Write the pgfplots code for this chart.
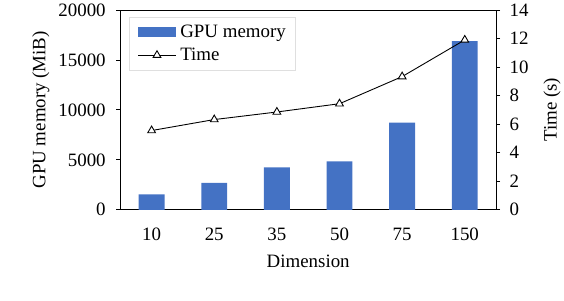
\documentclass[border=0pt]{standalone}
\usepackage{pgfplots}
\pgfplotsset{compat=1.18}
\usepackage{fontspec}
\setmainfont{Liberation Serif}
\definecolor{barblue}{HTML}{4472C4}
\begin{document}
\begin{tikzpicture}[font=\fontsize{19bp}{22bp}\selectfont]
\pgfplotsset{
  every axis/.append style={
    scale only axis, width=378bp, height=201bp,
    xmin=-0.5, xmax=5.5,
    /pgf/number format/assume math mode=true,
    /pgf/number format/set thousands separator={},
    scaled ticks=false,
    tick align=outside,
    major tick length=4bp,
    line width=0.8bp,
    tick style={line width=0.8bp, black},
    at={(0,0)}, anchor=south west,
  }
}
\begin{axis}[
  ymin=0, ymax=20000,
  ytick={0,5000,10000,15000,20000},
  ytick pos=left,
  xtick=data,
  xticklabels={10,25,35,50,75,150},
  xtick style={draw=none},
  xticklabel style={yshift=-11bp},
  yticklabel style={xshift=-7bp},
  xlabel={Dimension},
  xlabel style={yshift=-7bp},
  ylabel={GPU memory (MiB)},
  ylabel style={yshift=2bp},
]
\addplot[ybar, bar width=26bp, fill=barblue, draw=none] coordinates {
(0,1530) (1,2700) (2,4250) (3,4850) (4,8720) (5,16880)
};
\end{axis}
\begin{axis}[
  ymin=0, ymax=14,
  ytick={0,2,4,6,8,10,12,14},
  axis y line*=right,
  axis x line=none,
  yticklabel style={xshift=6bp},
  ylabel={Time (s)},
  ylabel style={yshift=-8bp},
  legend style={at={(0.024,0.965)}, anchor=north west, draw=gray!25, line width=0.8bp,
    font=\fontsize{19bp}{22bp}\selectfont, row sep=5bp, inner xsep=8bp, inner ysep=6bp,
    /tikz/every odd column/.append style={column sep=2bp}},
  legend cell align=left,
]
\addlegendimage{legend image code/.code={\fill[barblue] (0bp,-4.5bp) rectangle (38bp,4.5bp);}}
\addlegendentry{GPU memory}
\addplot[black, line width=0.9bp, mark=triangle*, mark size=4.5bp,
  mark options={fill=white, line width=0.9bp},
  legend image code/.code={\draw[black, line width=0.9bp] (0bp,0bp) -- (38bp,0bp);
    \draw[black, fill=white, line width=0.9bp] plot[mark=triangle*, mark size=4.5bp] coordinates {(19bp,0bp)};}]
  coordinates {
(0,5.55) (1,6.32) (2,6.85) (3,7.43) (4,9.33) (5,11.9)
};
\addlegendentry{Time}
\end{axis}
\path (-121bp,-91bp) rectangle (443bp,211bp);
\end{tikzpicture}
\end{document}
